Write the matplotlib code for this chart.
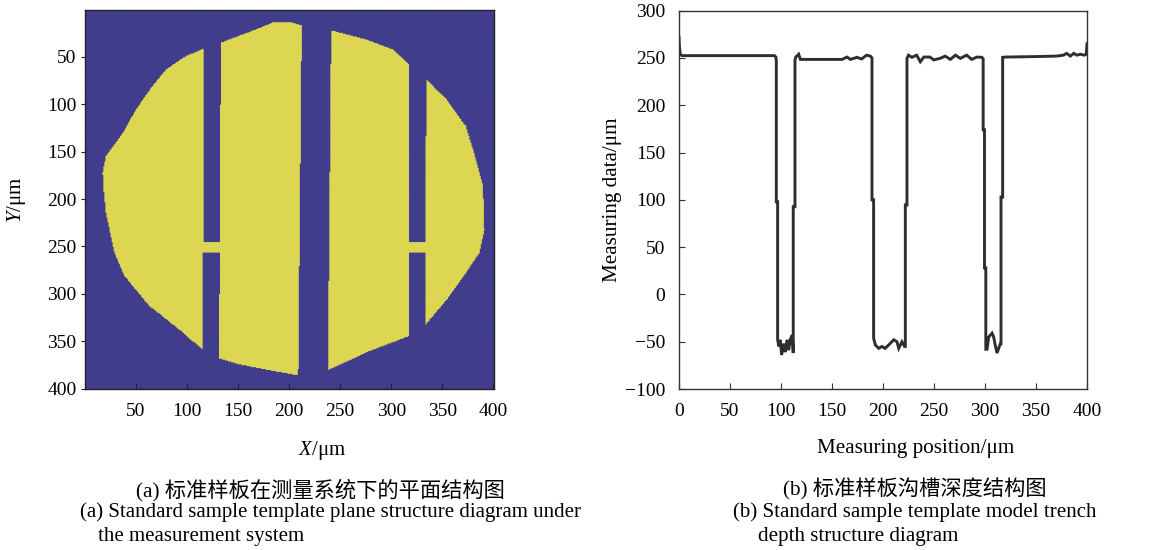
import numpy as np
import matplotlib
matplotlib.use("Agg")
import matplotlib.pyplot as plt
from matplotlib.path import Path
from matplotlib.colors import ListedColormap

plt.rcParams['font.family'] = ['Liberation Serif', 'Noto Sans CJK SC', 'DejaVu Sans']
plt.rcParams['font.size'] = 14
plt.rcParams['axes.unicode_minus'] = True
plt.rcParams['mathtext.fontset'] = 'custom'
plt.rcParams['mathtext.rm'] = 'Liberation Serif'
plt.rcParams['mathtext.it'] = 'Liberation Serif:italic'

# ---- (a) plane structure: sample outline, trenches and bridges (μm) ----
outline_x = [17.9, 21.0, 37.5, 50.5, 65.0, 80.0, 99.4, 117.0, 133.7, 184.0, 200.0, 212.0,
             241.0, 275.5, 301.5, 318.0, 336.0, 354.0, 373.0, 380.0, 389.6, 391.0, 386.0,
             373.0, 357.0, 334.0, 316.0, 275.5, 239.6, 208.6, 177.7, 151.6, 130.4, 115.7,
             93.0, 63.6, 39.0, 29.3, 21.0, 18.4]
outline_y = [172.0, 155.0, 130.0, 105.5, 83.0, 63.0, 49.0, 41.0, 35.0, 14.0, 13.0, 17.0,
             21.8, 31.7, 42.0, 58.0, 75.6, 95.0, 123.0, 148.0, 186.0, 232.0, 257.0,
             278.0, 302.5, 332.0, 345.0, 362.0, 380.0, 386.0, 380.0, 374.7, 367.6, 359.0,
             338.0, 313.0, 281.0, 257.0, 214.6, 186.0]

# trench edges at the top and bottom of the sample
trench_left_top = [116.8, 212.5, 318.0]
trench_right_top = [133.5, 241.5, 334.5]
trench_left_bottom = [115.5, 208.8, 317.0]
trench_right_bottom = [131.5, 238.0, 333.0]

# bridges across the side trenches
bridge_trench = [0, 2]
bridge_y_top = [245.5, 245.5]
bridge_y_bottom = [256.0, 256.0]

# ---- (b) trench depth profile ----
profile_x = [0.0, 0.4, 1.2, 3.0, 20.0, 50.0, 80.0, 93.5, 95.0, 95.4, 95.4, 96.7,
             96.7, 98.0, 99.3, 100.6, 102.6, 104.0, 106.0, 107.5, 109.0, 111.0, 112.0,
             112.0, 113.7, 113.7, 114.5, 117.3, 119.0, 140.0, 160.0, 164.7, 168.0,
             174.5, 179.0, 184.0, 187.6, 189.2, 189.2, 190.8, 190.8, 192.5, 195.8,
             199.0, 202.0, 205.5, 210.5, 213.7, 215.4, 218.6, 221.2, 221.9, 221.9,
             223.5, 223.5, 225.0, 228.4, 233.0, 236.6, 240.0, 246.0, 249.7, 256.0,
             261.0, 266.0, 271.0, 275.8, 282.0, 287.0, 292.0, 297.0, 298.2, 298.2,
             299.5, 299.5, 300.8, 300.8, 302.0, 303.6, 306.9, 308.5, 310.0, 311.8,
             314.0, 315.3, 315.7, 315.7, 317.3, 317.3, 320.0, 350.0, 370.0, 377.0,
             380.0, 383.7, 387.0, 390.0, 393.5, 397.0, 399.3, 400.0]
profile_y = [272.0, 262.0, 254.0, 252.5, 252.5, 252.5, 252.5, 252.5, 251.0, 247.0, 98.0, 98.0,
             -48.0, -55.0, -48.0, -64.0, -52.0, -61.0, -48.0, -59.0, -48.0, -43.0, -62.0,
             92.8, 92.8, 248.0, 251.0, 254.0, 248.5, 248.5, 248.5, 251.0, 248.5,
             250.7, 249.0, 253.0, 252.0, 250.0, 100.0, 100.0, -46.4, -53.5, -57.0,
             -55.0, -57.0, -53.5, -48.0, -50.0, -57.0, -50.0, -55.0, -55.0, 94.6,
             94.6, 249.6, 253.0, 250.7, 253.0, 246.0, 251.0, 251.0, 248.0, 249.6,
             252.0, 248.5, 253.0, 249.6, 253.0, 248.5, 251.0, 250.7, 249.0, 174.0,
             174.0, 28.0, 28.0, -58.0, -58.0, -45.0, -41.0, -45.0, -53.5, -62.0,
             -55.2, -52.0, -52.0, 103.0, 103.0, 250.7, 251.0, 251.5, 252.0, 253.0,
             254.9, 252.0, 254.9, 253.0, 254.0, 253.0, 254.0, 265.0]

x_ticks_a = [50, 100, 150, 200, 250, 300, 350, 400]
y_ticks_a = [50, 100, 150, 200, 250, 300, 350, 400]
x_ticks_b = [0, 50, 100, 150, 200, 250, 300, 350, 400]
y_ticks_b = [-100, -50, 0, 50, 100, 150, 200, 250, 300]

BLUE = "#413d8d"
YELLOW = "#dcd652"
W, H = 1161, 550


def fx(px):
    return px / W


def fy(py):
    return 1 - py / H


fig = plt.figure(figsize=(W / 100, H / 100), dpi=100)

# ---------- panel (a) ----------
ax1 = fig.add_axes([fx(85), fy(389), (494 - 85) / W, (389 - 10) / H])
gx, gy = np.meshgrid(np.arange(1, 401), np.arange(1, 401))
pts = np.column_stack([gx.ravel(), gy.ravel()])
inside = Path(np.column_stack([outline_x, outline_y])).contains_points(pts)
for i in range(len(trench_left_top)):
    trench = Path([(trench_left_top[i], 0), (trench_right_top[i], 0),
                   (trench_right_bottom[i], 401), (trench_left_bottom[i], 401)])
    in_trench = trench.contains_points(pts)
    if i in bridge_trench:
        k = bridge_trench.index(i)
        yy = pts[:, 1]
        in_trench &= ~((yy >= bridge_y_top[k]) & (yy <= bridge_y_bottom[k]))
    inside &= ~in_trench
mask = inside.reshape(gx.shape).astype(float)
ax1.imshow(mask, cmap=ListedColormap([BLUE, YELLOW]), extent=(0.5, 400.5, 400.5, 0.5),
           aspect='auto', interpolation='antialiased', vmin=0, vmax=1)
ax1.set_xlim(0.5, 400.5)
ax1.set_ylim(400.5, 0.5)
ax1.set_xticks(x_ticks_a)
ax1.set_yticks(y_ticks_a)
ax1.tick_params(axis='x', direction='in', length=4, width=0.8, pad=10, labelsize=14, color='#222222')
ax1.tick_params(axis='y', direction='out', length=3, width=0.8, pad=3, labelsize=14, color='#222222')
for s in ax1.spines.values():
    s.set_linewidth(1.0)
    s.set_color('#222222')

# ---------- panel (b) ----------
ax2 = fig.add_axes([fx(679), fy(389), (1087 - 679) / W, (389 - 10.7) / H])
ax2.plot(profile_x, profile_y, color='#2e2e2e', lw=2.1, solid_joinstyle='miter')
ax2.set_xlim(0, 400)
ax2.set_ylim(-100, 300)
ax2.set_xticks(x_ticks_b)
ax2.set_yticks(y_ticks_b)
ax2.tick_params(direction='in', length=4, width=0.8, pad=10, labelsize=14, color='#333333')
for s in ax2.spines.values():
    s.set_linewidth(1.0)
    s.set_color('#333333')

# ---------- labels and captions ----------
fig.text(fx(17), fy(200), r"$Y$/μm", rotation=90, ha='center', va='center', fontsize=15)
fig.text(fx(322), fy(450), r"$X$/μm", ha='center', va='center', fontsize=15)
fig.text(fx(612), fy(200), "Measuring data/μm", rotation=90, ha='center', va='center', fontsize=15.2)
fig.text(fx(916), fy(448), "Measuring position/μm", ha='center', va='center', fontsize=15.2)

fig.text(fx(320), fy(490), "(a) 标准样板在测量系统下的平面结构图", ha='center', va='center', fontsize=15.3)
fig.text(fx(80), fy(512), "(a) Standard sample template plane structure diagram under",
         ha='left', va='center', fontsize=15)
fig.text(fx(98), fy(537), "the measurement system", ha='left', va='center', fontsize=15)

fig.text(fx(915), fy(489), "(b) 标准样板沟槽深度结构图", ha='center', va='center', fontsize=15.3)
fig.text(fx(733), fy(512), "(b) Standard sample template model trench",
         ha='left', va='center', fontsize=15.1)
fig.text(fx(758), fy(537), "depth structure diagram", ha='left', va='center', fontsize=15.1)

fig.savefig("out.png", dpi=100)
